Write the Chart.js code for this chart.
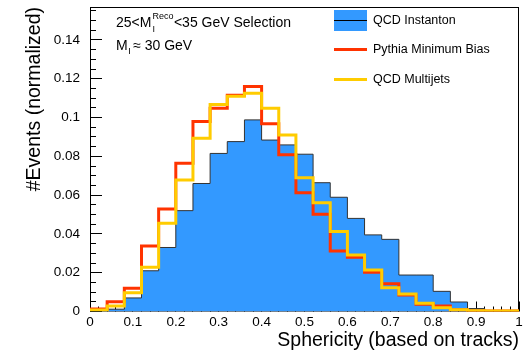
<!DOCTYPE html>
<html>
<head>
<meta charset="utf-8">
<script src="https://cdn.jsdelivr.net/npm/chart.js@4"></script>
<style>
    html, body { margin: 0; padding: 0; background: #fff; }
    canvas { display: block; }
</style>
</head>
<body>
<canvas id="sphericity" width="531" height="355"></canvas>
<script>
// 25 bins of width 0.04 between 0 and 1
const binEdges = [0, 0.04, 0.08, 0.12, 0.16, 0.2, 0.24, 0.28, 0.32, 0.36, 0.4, 0.44, 0.48,
    0.52, 0.56, 0.6, 0.64, 0.68, 0.72, 0.76, 0.8, 0.84, 0.88, 0.92, 0.96, 1];

// normalized event fractions per bin
const instanton = [0.0005, 0.0012, 0.0070, 0.0210, 0.0330, 0.0520, 0.0660, 0.0815, 0.0876, 0.0988,
    0.0884, 0.0859, 0.0811, 0.0664, 0.0589, 0.0480, 0.0395, 0.0372, 0.0188, 0.0188,
    0.0104, 0.0049, 0.0015, 0.0003, 0.0002];
const pythiaMB = [0.0013, 0.0050, 0.0120, 0.0338, 0.0529, 0.0764, 0.0979, 0.1048, 0.1115, 0.1160,
    0.0968, 0.0808, 0.0612, 0.0501, 0.0312, 0.0280, 0.0202, 0.0143, 0.0085, 0.0038,
    0.0028, 0.0009, 0.0004, 0.0003, 0.0002];
const multijets = [0.0008, 0.0028, 0.0097, 0.0228, 0.0455, 0.0678, 0.0893, 0.1067, 0.1110, 0.1125,
    0.1048, 0.0910, 0.0690, 0.0561, 0.0412, 0.0291, 0.0214, 0.0123, 0.0090, 0.0042,
    0.0019, 0.0009, 0.0004, 0.0003, 0.0002];

const seriesNames = ['QCD Instanton', 'Pythia Minimum Bias', 'QCD Multijets'];

const xTicks = [0, 0.1, 0.2, 0.3, 0.4, 0.5, 0.6, 0.7, 0.8, 0.9, 1];
const yTicks = [0, 0.02, 0.04, 0.06, 0.08, 0.1, 0.12, 0.14];

const FONT = '"Liberation Sans", Arial, Helvetica, sans-serif';

// one point per left bin edge, last point closes the final bin
function steps(values) {
    const pts = values.map((v, i) => ({x: binEdges[i], y: v}));
    pts.push({x: binEdges[values.length], y: values[values.length - 1]});
    return pts;
}

function fmt(v) {
    return String(+v.toFixed(3));
}

// box around the pad plus inward ticks, drawn under the histograms
const rootFrame = {
    id: 'rootFrame',
    beforeDatasetsDraw(chart) {
        const {ctx, chartArea: a, scales: {x, y}} = chart;
        ctx.save();
        ctx.strokeStyle = '#000';
        ctx.lineWidth = 1;
        ctx.strokeRect(a.left + 0.5, a.top + 0.5, a.width - 1, a.height - 1);

        ctx.beginPath();
        // y ticks: major every 0.02, minor every 0.005
        for (let k = 0; k <= 31; k++) {
            const v = k * 0.005;
            const py = Math.floor(y.getPixelForValue(v)) + 0.5;
            if (py < a.top) break;
            const len = k % 4 === 0 ? 12 : 6;
            ctx.moveTo(a.left, py);
            ctx.lineTo(a.left + len, py);
        }
        // x ticks: major every 0.1, minor every 0.02
        for (let k = 0; k <= 50; k++) {
            const v = k * 0.02;
            const px = Math.floor(x.getPixelForValue(v)) + 0.5;
            const len = k % 5 === 0 ? 10 : 5;
            ctx.moveTo(px, a.bottom);
            ctx.lineTo(px, a.bottom - len);
        }
        ctx.stroke();
        ctx.restore();
    }
};

const legendBox = {
    id: 'legendBox',
    afterDraw(chart) {
        const ctx = chart.ctx;
        const rows = [20.5, 49.5, 79.5];
        ctx.save();
        ctx.font = '12.5px ' + FONT;
        ctx.textBaseline = 'middle';
        chart.data.datasets.forEach((ds, i) => {
            const yy = rows[i];
            if (ds.fill) {
                ctx.fillStyle = ds.backgroundColor;
                ctx.fillRect(334, yy - 10.5, 33, 21);
                ctx.strokeStyle = '#000';
                ctx.lineWidth = 1;
            } else {
                ctx.strokeStyle = ds.borderColor;
                ctx.lineWidth = 3;
            }
            ctx.beginPath();
            ctx.moveTo(334, yy);
            ctx.lineTo(367, yy);
            ctx.stroke();
            ctx.fillStyle = '#000';
            ctx.fillText(ds.label, 373, yy + 0.5);
        });
        ctx.restore();
    }
};

// selection labels in the top left corner
const selectionText = {
    id: 'selectionText',
    afterDraw(chart) {
        const ctx = chart.ctx;
        const big = '14px ' + FONT;
        const small = '9px ' + FONT;
        ctx.save();
        ctx.fillStyle = '#000';
        ctx.textBaseline = 'alphabetic';

        let x = 116;
        let base = 27;
        ctx.font = big;
        ctx.fillText('25<M', x, base);
        x += ctx.measureText('25<M').width + 1;
        ctx.font = small;
        ctx.fillText('Reco', x, base - 8.5);
        ctx.fillText('I', x, base + 4.5);
        x += ctx.measureText('Reco').width + 0.5;
        ctx.font = big;
        ctx.fillText('<35 GeV Selection', x, base);

        x = 116;
        base = 50;
        ctx.fillText('M', x, base);
        x += ctx.measureText('M').width + 0.5;
        ctx.font = small;
        ctx.fillText('I', x, base + 3.5);
        x += ctx.measureText('I').width + 2.5;
        ctx.font = big;
        ctx.fillText('\u2248 30 GeV', x, base);
        ctx.restore();
    }
};

Chart.defaults.font.family = FONT;
Chart.defaults.color = '#000';

new Chart(document.getElementById('sphericity'), {
    type: 'line',
    data: {
        datasets: [{
            label: seriesNames[0],
            data: steps(instanton),
            stepped: 'before',
            fill: 'origin',
            backgroundColor: '#3399ff',
            borderColor: '#333',
            borderWidth: 1,
            pointRadius: 0,
            order: 3
        }, {
            label: seriesNames[1],
            data: steps(pythiaMB),
            stepped: 'before',
            fill: false,
            borderColor: '#ff3300',
            borderWidth: 3,
            pointRadius: 0,
            order: 2
        }, {
            label: seriesNames[2],
            data: steps(multijets),
            stepped: 'before',
            fill: false,
            borderColor: '#ffcc00',
            borderWidth: 3,
            pointRadius: 0,
            order: 1
        }]
    },
    options: {
        responsive: false,
        animation: false,
        layout: {padding: {top: 7, right: 12, bottom: 0, left: 0}},
        plugins: {
            legend: {display: false},
            tooltip: {enabled: false}
        },
        scales: {
            x: {
                type: 'linear',
                min: 0,
                max: 1,
                grid: {display: false, drawTicks: false},
                border: {display: false},
                afterBuildTicks: s => { s.ticks = xTicks.map(v => ({value: v})); },
                afterFit: s => {
                    s.height = 43.5;
                    s.paddingLeft = 0;
                    s.paddingRight = 0;
                },
                ticks: {
                    autoSkip: false,
                    maxRotation: 0,
                    padding: 3,
                    font: {size: 13.5},
                    callback: v => fmt(v)
                },
                title: {
                    display: true,
                    text: 'Sphericity (based on tracks)',
                    align: 'end',
                    font: {size: 19.5},
                    padding: {top: 0, bottom: 3}
                }
            },
            y: {
                min: 0,
                max: 0.157,
                grid: {display: false, drawTicks: false},
                border: {display: false},
                afterBuildTicks: s => { s.ticks = yTicks.map(v => ({value: v})); },
                afterFit: s => {
                    s.width = 90;
                    s.paddingTop = 0;
                    s.paddingBottom = 0;
                },
                ticks: {
                    autoSkip: false,
                    padding: 10,
                    font: {size: 13.5},
                    callback: v => fmt(v)
                },
                title: {
                    display: true,
                    text: '#Events (normalized)',
                    align: 'end',
                    font: {size: 19.5},
                    padding: {top: 23, bottom: 0}
                }
            }
        }
    },
    plugins: [rootFrame, legendBox, selectionText]
});
</script>
</body>
</html>
